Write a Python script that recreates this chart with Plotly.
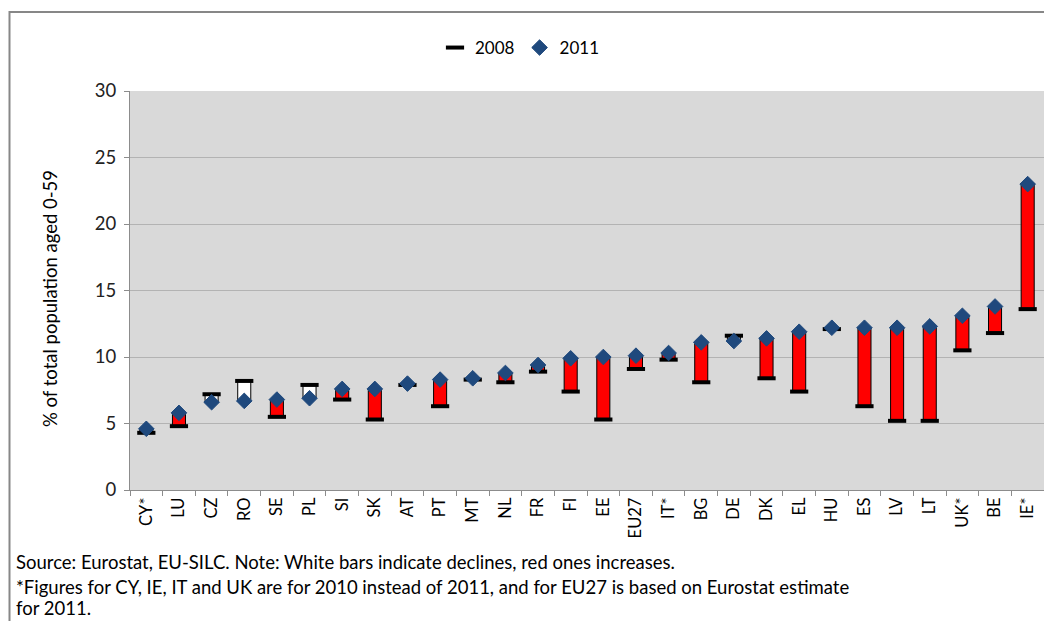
import plotly.graph_objects as go

countries = ["CY*", "LU", "CZ", "RO", "SE", "PL", "SI", "SK", "AT", "PT", "MT", "NL", "FR", "FI",
             "EE", "EU27", "IT*", "BG", "DE", "DK", "EL", "HU", "ES", "LV", "LT", "UK*", "BE", "IE*"]
v2008 = [4.3, 4.8, 7.2, 8.2, 5.5, 7.9, 6.8, 5.3, 7.9, 6.3, 8.3, 8.1, 8.9, 7.4,
         5.3, 9.1, 9.8, 8.1, 11.6, 8.4, 7.4, 12.1, 6.3, 5.2, 5.2, 10.5, 11.8, 13.6]
v2011 = [4.6, 5.8, 6.6, 6.7, 6.8, 6.9, 7.6, 7.6, 8.0, 8.3, 8.4, 8.8, 9.4, 9.9,
         10.0, 10.1, 10.3, 11.1, 11.2, 11.4, 11.9, 12.2, 12.2, 12.2, 12.3, 13.1, 13.8, 23.0]
y_ticks = [0, 5, 10, 15, 20, 25, 30]

FONT = "Lato, 'Open Sans', sans-serif"

diff = [b - a for a, b in zip(v2008, v2011)]
bar_colors = ["#FF0000" if d > 0 else "#FFFFFF" for d in diff]

fig = go.Figure()
fig.add_trace(go.Bar(
    x=countries, y=diff, base=v2008, width=0.4,
    marker=dict(color=bar_colors, line=dict(color="#000000", width=1)),
    showlegend=False, hoverinfo="skip"))
fig.add_trace(go.Scatter(
    x=countries, y=v2008, mode="markers", name="2008",
    marker=dict(symbol="line-ew", size=13, color="#000000",
                line=dict(color="#000000", width=4))))
fig.add_trace(go.Scatter(
    x=countries, y=v2011, mode="markers", name="2011",
    marker=dict(symbol="diamond", size=12, color="#1F497D",
                line=dict(color="#1F497D", width=1))))

# page has an 8px body margin; work in page pixels and convert
OFF = 8
W, H = 1052 - OFF, 621 - OFF
PL_, PT_, PR_, PB_ = 130, 91, 1044, 490  # plot area in page pixels
L, T = PL_ - OFF, PT_ - OFF
R, B = W - (PR_ - OFF), H - (PB_ - OFF)
PW, PH = PR_ - PL_, PB_ - PT_

def px(xp):
    return (xp - PL_) / PW

def py(yp):
    return (PB_ - yp) / PH

fig.update_layout(
    width=W, height=H,
    margin=dict(l=L, r=R, t=T, b=B, pad=0),
    paper_bgcolor="white", plot_bgcolor="#D9D9D9",
    font=dict(family=FONT, size=16, color="#000000"),
    showlegend=True,
    legend=dict(orientation="h", x=px(520), xanchor="center", y=py(48), yanchor="middle",
                font=dict(size=17), bgcolor="rgba(0,0,0,0)", itemwidth=30,
                tracegroupgap=0),
    xaxis=dict(type="category", showline=True, linecolor="#8C8C8C", linewidth=1,
               ticks="outside", ticklen=5, tickcolor="#8C8C8C", tickson="boundaries",
               tickangle=-90, tickfont=dict(size=16.5), showgrid=False,
               range=[-0.5, len(countries) - 0.5]),
    yaxis=dict(range=[0, 30], tickvals=y_ticks, showline=True, linecolor="#8C8C8C",
               linewidth=1, ticks="outside", ticklen=5, tickcolor="#8C8C8C",
               showgrid=True, gridcolor="#B3B3B3", gridwidth=1, ticklabelstandoff=4,
               tickfont=dict(size=18.5, color="#222222"), zeroline=False),
    shapes=[dict(type="rect", xref="paper", yref="paper",
                 x0=px(9.5), x1=px(1070), y0=py(660), y1=py(12),
                 line=dict(color="#878787", width=2), fillcolor="rgba(0,0,0,0)", layer="below")],
    annotations=[
        dict(text="% of total population aged 0-59", xref="paper", yref="paper",
             x=px(50), y=py(299), textangle=-90, showarrow=False,
             font=dict(size=18.5), xanchor="center", yanchor="middle"),
        dict(text="Source: Eurostat, EU-SILC. Note: White bars indicate declines, red ones increases.",
             xref="paper", yref="paper", x=px(14), y=py(562), xanchor="left", yanchor="middle",
             showarrow=False, font=dict(size=18.5)),
        dict(text="*Figures for CY, IE, IT and UK are for 2010 instead of 2011, and for EU27 is based on Eurostat estimate",
             xref="paper", yref="paper", x=px(14), y=py(587), xanchor="left", yanchor="middle",
             showarrow=False, font=dict(size=18.5)),
        dict(text="for 2011.",
             xref="paper", yref="paper", x=px(14), y=py(608), xanchor="left", yanchor="middle",
             showarrow=False, font=dict(size=18.5)),
    ],
)

fig.write_html("out.html")
